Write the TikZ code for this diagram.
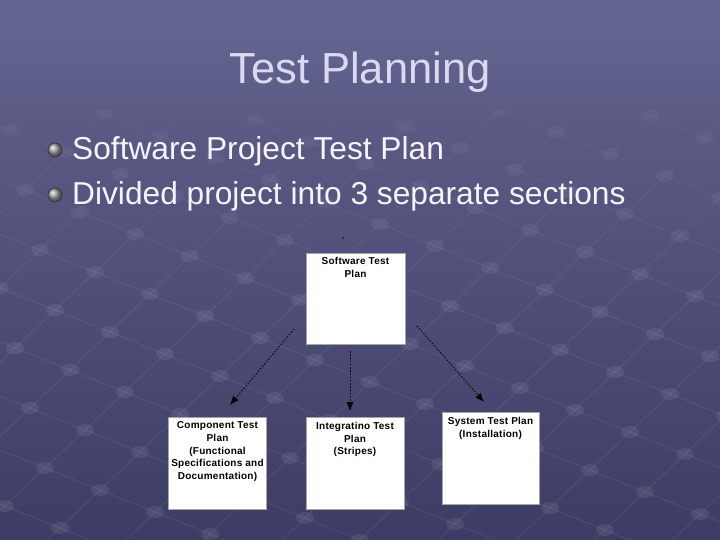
\documentclass[tikz,border=0pt]{standalone}
\usepackage{fontspec}
\setmainfont{Liberation Sans}
\newfontfamily\boxfont[LetterSpace=2.5]{Liberation Sans}
\usetikzlibrary{arrows.meta,fadings}
\definecolor{bgtop}{HTML}{63638F}
\definecolor{bgbot}{HTML}{3C3C64}
\definecolor{titlecol}{HTML}{D9D9F2}
\definecolor{bulletcol}{HTML}{F4F4FA}
\tikzset{
  gridline/.style={draw=white, opacity=0.07, line width=1.1pt},
  griddot/.style={fill=white, opacity=0.08},
  planbox/.style={draw=gray!70, fill=white, line width=0.7pt, inner sep=0pt},
  boxtext/.style={align=center, inner sep=0pt, font=\boxfont\bfseries\fontsize{10}{12.7}\selectfont, text=black},
  conn/.style={draw=black, line width=0.8pt, dash pattern=on 1.6pt off 1.6pt, -{Latex[length=9pt,width=7pt]}},
  bulletball/.style={ball color=gray!75!white, draw=black!80, line width=0.6pt}
}
\begin{document}
\begin{tikzpicture}[x=1pt,y=-1pt]
\useasboundingbox (0,0) rectangle (720,540);
\shade[top color=bgtop, bottom color=bgbot] (0,0) rectangle (720,540);
% faint perspective grid
\begin{scope}
\clip (0,0) rectangle (720,540);
\foreach \i in {-14,...,14}
  \draw[gridline] ({330+\i*40-20*55},{420-\i*38-20*22}) -- ({330+\i*40+20*55},{420-\i*38+20*22});
\foreach \j in {-14,...,14}
  \draw[gridline] ({330+\j*55-20*40},{420+\j*22+20*38}) -- ({330+\j*55+20*40},{420+\j*22-20*38});
\foreach \i in {-10,...,10}
  \foreach \j in {-10,...,10}
    \fill[griddot] ({330+\i*40+\j*55},{420-\i*38+\j*22}) ellipse (9 and 6);
\end{scope}
% fade the grid out towards the top
\shade[top color=bgtop, bottom color=bgbot!55!bgtop, path fading=south] (0,0) rectangle (720,300);
\fill[bgtop] (0,0) rectangle (720,40);
\shade[top color=bgtop, bottom color=bgbot!20!bgtop] (0,40) rectangle (720,110);
% title and bullets
\node[anchor=base, inner sep=0pt, text=titlecol, font=\fontsize{43.5}{44}\selectfont] (title) at (360,84) {Test Planning};
\shade[bulletball] (55,150) circle (7);
\shade[bulletball] (55,195) circle (7);
\node[anchor=base west, inner sep=0pt, text=bulletcol, font=\fontsize{31.7}{32}\selectfont] (b1) at (72,160) {Software Project Test Plan};
\node[anchor=base west, inner sep=0pt, text=bulletcol, font=\fontsize{31.7}{32}\selectfont] (b2) at (72,205) {Divided project into 3 separate sections};
% small dot
\fill[black] (343,238) circle (0.8);
% boxes
\node[planbox, minimum width=99, minimum height=91] (stp) at (355.5,298.5) {};
\node[planbox, minimum width=98, minimum height=92] (ctp) at (217.5,463.5) {};
\node[planbox, minimum width=98, minimum height=92] (itp) at (355,463) {};
\node[planbox, minimum width=97, minimum height=92] (sys) at (490.5,458) {};
\node[boxtext, anchor=north] (stpt) at ([yshift=-4.5pt]stp.north) {Software Test\\Plan};
\node[boxtext, anchor=north] (ctpt) at ([yshift=-4.5pt]ctp.north) {Component Test\\Plan\\(Functional\\Specifications and\\Documentation)};
\node[boxtext, anchor=north] (itpt) at ([yshift=-5.5pt]itp.north) {Integratino Test\\Plan\\(Stripes)};
\node[boxtext, anchor=north] (syst) at ([yshift=-5.5pt]sys.north) {System Test Plan\\(Installation)};
% connectors
\coordinate (a1s) at (294,329);
\coordinate (a1e) at (230,405);
\coordinate (a2s) at (350,351);
\coordinate (a2e) at (350,411);
\coordinate (a3s) at (417,326);
\coordinate (a3e) at (484,402);
\draw[conn] (a1s) -- (a1e);
\draw[conn] (a2s) -- (a2e);
\draw[conn] (a3s) -- (a3e);
\end{tikzpicture}
\end{document}
